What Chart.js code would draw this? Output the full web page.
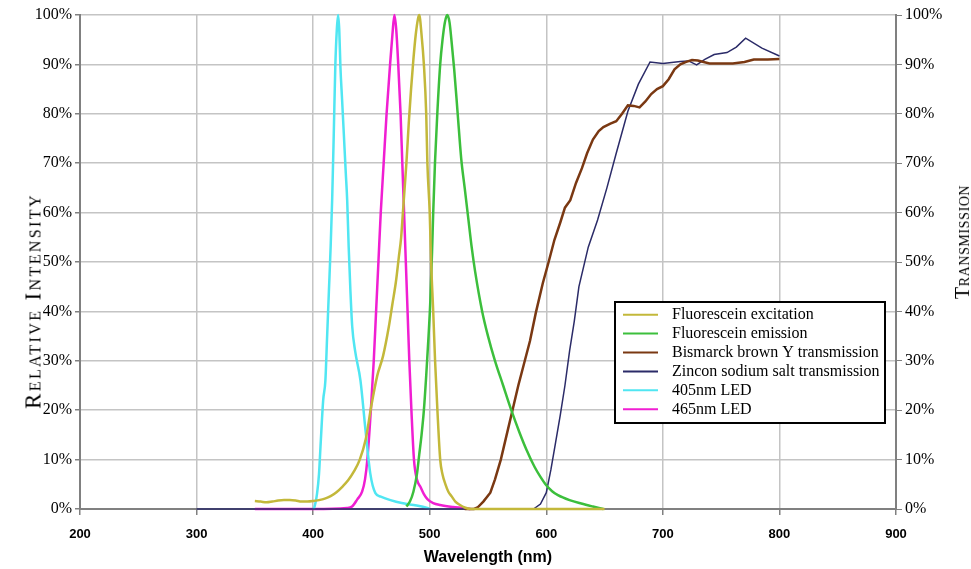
<!DOCTYPE html>
<html><head><meta charset="utf-8">
<script src="https://cdn.jsdelivr.net/npm/chart.js@4"></script>
<style>
html,body{margin:0;padding:0;background:#fff}
#wrap{width:971px;height:569px;position:relative}
.ttl{position:absolute;white-space:nowrap;line-height:1;color:#000;transform:translate(-50%,-50%) rotate(-90deg)}
.serif{font-family:"Liberation Serif","Times New Roman",serif;font-variant:small-caps}
#xt{position:absolute;left:488px;top:557px;transform:translate(-50%,-50%);font:bold 16px "Liberation Sans",Arial,sans-serif;white-space:nowrap;color:#000;line-height:1}
</style>
</head><body>
<div id="wrap">
<canvas id="c"></canvas>
<div class="ttl serif" id="yt" style="left:32.5px;top:301px;font-size:23px;letter-spacing:2.4px">Relative Intensity</div>
<div class="ttl serif" id="y1t" style="left:962px;top:242px;font-size:20px;letter-spacing:0.6px">Transmission</div>
<div id="xt">Wavelength (nm)</div>
</div>
<script>
// ---- data (wavelength in nm, value in %) ----
const seriesLabels = ['Fluorescein excitation','Fluorescein emission','Bismarck brown Y transmission','Zincon sodium salt transmission','405nm LED','465nm LED'];
const xTicks = [200,300,400,500,600,700,800,900];

const excNm  = [350,355,360,365,370,375,380,385,390,395,400,405,410,415,420,425,430,435,440,445,450,455,460,465,468,471,473.5,475.5,477,478.5,480,482,484,486,488,490,491,493,495,497,498,500,501.2,503,504.6,506.6,509,511,513.5,516,519,522,526,530,535,550,600,650];
const excVal = [1.6,1.5,1.35,1.5,1.7,1.8,1.8,1.7,1.5,1.5,1.6,1.8,2.1,2.6,3.4,4.5,5.8,7.6,10,14,21,27,31,37,41.5,46,51,55,60,65,70,78,85,91,96,99.3,100,96,90,80,70,60,50,40,30,20,10,7,5,3.5,2.5,1.5,0.8,0.3,0,0,0,0];

const emNm  = [480,483,486,489,491,493,495,497,499,500.5,502,503,504.5,506.5,509,511,513,515,517,519,521,524,527,530,533,536,539,545,550,556,563,570,577,583,590,595,600,605,610,620,630,640,649];
const emVal = [0.5,1.5,3.5,7,11,15,20,27,35,42,52,60,70,80,90,95,98.5,100,98.5,94,89,80,71,65,59,53,48,40,35,30,25,20,15.5,12,8.5,6.5,4.8,3.6,2.8,1.8,1.1,0.5,0];

const bbNm  = [530,538,541,546,552,556,561,566,571,576,581,586,591,597,602,607,612,616,620.6,625.5,630.6,635,640,645,649,655,660,665,670,675,680,685,690,695,700,705,710,715,720,725,730,735,740,750,760,770,778,790,800];
const bbVal = [0,0,0.3,1.5,3.3,6,10,15,20,25,29.5,34,39.7,45.7,50,54.5,58,61,62.5,66,69,72,74.8,76.5,77.3,78,78.5,80,81.7,81.6,81.3,82.5,84,85,85.6,87,89,90,90.5,90.9,90.8,90.5,90.2,90.2,90.2,90.5,91,91,91.1];

const znNm  = [300,400,500,589,595,600,604,608,612,616,620,624,628,632,636,644,652,660,670,679,689,700,715,722,729,736,744,755,763,771,785,800];
const znVal = [0,0,0,0,1,3.3,8,13.5,19,25,32,38,45,49,53,58.5,65,72,80.5,86,90.5,90.2,90.6,90.7,89.9,91,92,92.4,93.5,95.3,93.3,91.7];

const l405Nm  = [400,401,403.4,405,406.3,408.6,410.5,412,413.5,415,416.3,417.7,419,420.3,421.4,422.4,423.4,424.8,426.3,428,429.2,430.5,432,433.5,436,440.6,444.9,449,453.4,458,466.3,476,486.3,498,500];
const l405Val = [0,0.3,3.2,7,12.6,22,26,35,44,53,62.5,76,89.5,97,100,97,89.5,83,76,68,62.5,53,44,37,32,26,16,7.2,3.2,2.5,1.8,1.2,0.8,0.2,0];

const l465Nm  = [350,400,429,433.4,438,442,444.5,446.5,449.5,452,454,456,458,460.5,463,466,468,469.7,471.3,473,475,476.5,478,479.5,481,482.5,484.3,486.5,489,492,495,498,503,509,520,529,535];
const l465Val = [0,0,0.2,0.5,2,3.5,6,10,20,30,40,50,60,70,80,90,96,100,97,90,80,70,60,50,40,30,20,10,6,4.5,3,2,1.2,0.8,0.4,0.2,0];

const colors = ['#c3b83a','#3cbf3c','#7a3812','#2b2b68','#50e6f2','#f01ed2'];

const pts = (xs, ys) => xs.map((x, i) => ({x: x, y: ys[i]}));

function ds(i, xs, ys, axis, smooth, width) {
  return {
    label: seriesLabels[i], data: pts(xs, ys), yAxisID: axis,
    borderColor: colors[i], backgroundColor: colors[i],
    borderWidth: width, pointRadius: 0, fill: false, clip: 6,
    tension: smooth ? 0.4 : 0, cubicInterpolationMode: smooth ? 'monotone' : 'default'
  };
}

const legendPlugin = {
  id: 'boxLegend',
  afterDraw(chart) {
    const ctx = chart.ctx;
    ctx.save();
    const x0 = 615, y0 = 302, w = 270, h = 121;
    ctx.fillStyle = '#fff';
    ctx.fillRect(x0, y0, w, h);
    ctx.strokeStyle = '#000';
    ctx.lineWidth = 2;
    ctx.strokeRect(x0, y0, w, h);
    ctx.font = '16px "Liberation Serif"';
    ctx.textAlign = 'left';
    ctx.textBaseline = 'alphabetic';
    chart.data.datasets.forEach((d, i) => {
      const ry = 314.7 + i * 18.9;
      ctx.strokeStyle = d.borderColor;
      ctx.lineWidth = 2;
      ctx.beginPath(); ctx.moveTo(623, ry); ctx.lineTo(658, ry); ctx.stroke();
      ctx.fillStyle = '#000';
      ctx.fillText(d.label, 672, ry + 4.5);
    });
    ctx.restore();
  }
};

const pct = v => v + '%';
const tickFontSerif = {family: '"Liberation Serif"', size: 16};

new Chart(document.getElementById('c'), {
  type: 'line',
  data: {
    datasets: [
      ds(0, excNm, excVal, 'y', true, 2.5),
      ds(1, emNm, emVal, 'y', true, 2.5),
      ds(2, bbNm, bbVal, 'y1', false, 2.5),
      ds(3, znNm, znVal, 'y1', false, 1.5),
      ds(4, l405Nm, l405Val, 'y', true, 2.5),
      ds(5, l465Nm, l465Val, 'y', true, 2.5)
    ]
  },
  options: {
    responsive: true, maintainAspectRatio: false, animation: false, devicePixelRatio: 1,
    layout: {padding: {top: 15, left: 0, right: 0, bottom: 0}},
    plugins: {legend: {display: false}, tooltip: {enabled: false}},
    scales: {
      x: {
        type: 'linear', min: xTicks[0], max: xTicks[xTicks.length - 1],
        afterBuildTicks: s => { s.ticks = xTicks.map(v => ({value: v})); },
        ticks: {font: {family: '"Liberation Sans"', weight: 'bold', size: 13}, color: '#000', padding: 12},
        grid: {color: '#c4c4c4', lineWidth: 1.5, tickLength: 6, tickColor: '#808080'},
        border: {color: '#808080', width: 2},
        afterFit: s => { s.height = 60; }
      },
      y: {
        position: 'left', min: 0, max: 100,
        ticks: {stepSize: 10, callback: pct, font: tickFontSerif, color: '#000', padding: 3},
        grid: {color: '#c4c4c4', lineWidth: 1.5, tickLength: 5, tickColor: '#808080'},
        border: {color: '#808080', width: 2},
        afterFit: s => { s.width = 80; }
      },
      y1: {
        position: 'right', min: 0, max: 100,
        ticks: {stepSize: 10, callback: pct, font: tickFontSerif, color: '#000', padding: 3},
        grid: {drawOnChartArea: false, tickLength: 6, tickColor: '#808080'},
        border: {color: '#808080', width: 2},
        afterFit: s => { s.width = 75; }
      }
    }
  },
  plugins: [legendPlugin]
});
</script>
</body></html>
